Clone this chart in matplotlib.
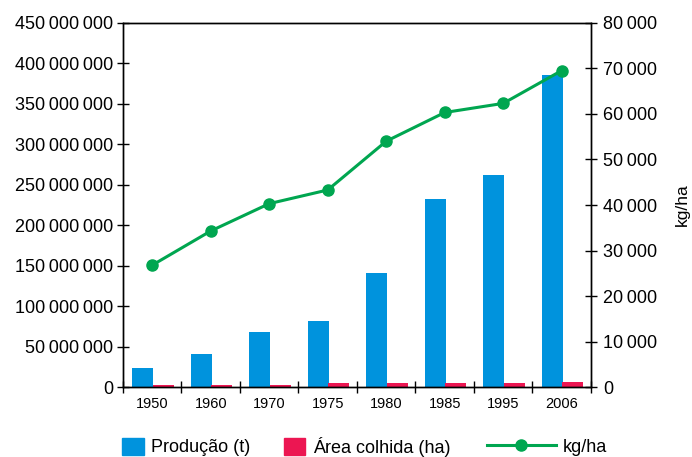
import numpy as np
import matplotlib
matplotlib.use("Agg")
import matplotlib.pyplot as plt
import matplotlib.patches as mpatches
from matplotlib.lines import Line2D
from matplotlib.ticker import FuncFormatter, MultipleLocator

plt.rcParams['font.family'] = ['Liberation Sans', 'DejaVu Sans']

anos = ["1950", "1960", "1970", "1975", "1980", "1985", "1995", "2006"]
producao = [24e6, 41e6, 68e6, 82e6, 141e6, 232e6, 262e6, 385e6]
area = [2.8e6, 2.8e6, 2.8e6, 5.3e6, 5.3e6, 5.3e6, 5.3e6, 6.5e6]
kg_ha = [26800, 34300, 40300, 43300, 54000, 60300, 62300, 69500]

azul = "#0093dd"
vermelho = "#ec1652"
verde = "#00a650"


def fmt(v, pos):
    return "{:,}".format(int(round(v))).replace(",", "\u2009")


fig = plt.figure(figsize=(6.92, 4.57), dpi=100)
ax = fig.add_axes([0.1777, 0.1525, 0.6763, 0.7978])
ax2 = ax.twinx()

x = np.arange(len(anos))
w = 0.36
ax.bar(x - 0.16, producao, w, color=azul, zorder=2)
ax.bar(x + 0.19, area, w, color=vermelho, zorder=2)
ax2.plot(x, kg_ha, color=verde, lw=2.2, marker="o", ms=8, zorder=3)

ax.set_xlim(-0.5, len(anos) - 0.5)
ax.set_ylim(0, 450e6)
ax2.set_ylim(0, 80000)

ax.yaxis.set_major_locator(MultipleLocator(50e6))
ax2.yaxis.set_major_locator(MultipleLocator(10000))
ax.yaxis.set_major_formatter(FuncFormatter(fmt))
ax2.yaxis.set_major_formatter(FuncFormatter(fmt))

ax.set_xticks(x)
ax.set_xticklabels(anos)
ax.set_xticks(np.arange(-0.5, len(anos)), minor=True)
ax.tick_params(axis="x", which="major", length=0, labelsize=10.5, pad=7)
ax.tick_params(axis="x", which="minor", direction="inout", length=8, width=1)
ax.tick_params(axis="y", direction="inout", length=8, width=1, labelsize=13, pad=3)
ax2.tick_params(axis="y", direction="inout", length=8, width=1, labelsize=13, pad=5)

for a in (ax, ax2):
    for s in a.spines.values():
        s.set_linewidth(1)

ax2.set_ylabel("kg/ha", fontsize=12.5, labelpad=12)

h1 = mpatches.Patch(color=azul)
h2 = mpatches.Patch(color=vermelho)
h3 = Line2D([], [], color=verde, lw=2.2, marker="o", ms=8)
kw = dict(frameon=False, fontsize=13, loc="center left", handleheight=1.1,
          borderpad=0, borderaxespad=0)
fig.legend([h1], ["Produção (t)"], bbox_to_anchor=(0.1763, 0.022),
           handlelength=1.2, handletextpad=0.4, **kw)
fig.legend([h2], ["Área colhida (ha)"], bbox_to_anchor=(0.410, 0.022),
           handlelength=1.2, handletextpad=0.4, **kw)
fig.legend([h3], ["kg/ha"], bbox_to_anchor=(0.7038, 0.022),
           handlelength=3.8, handletextpad=0.4, **kw)

fig.savefig("out.png", dpi=100)
